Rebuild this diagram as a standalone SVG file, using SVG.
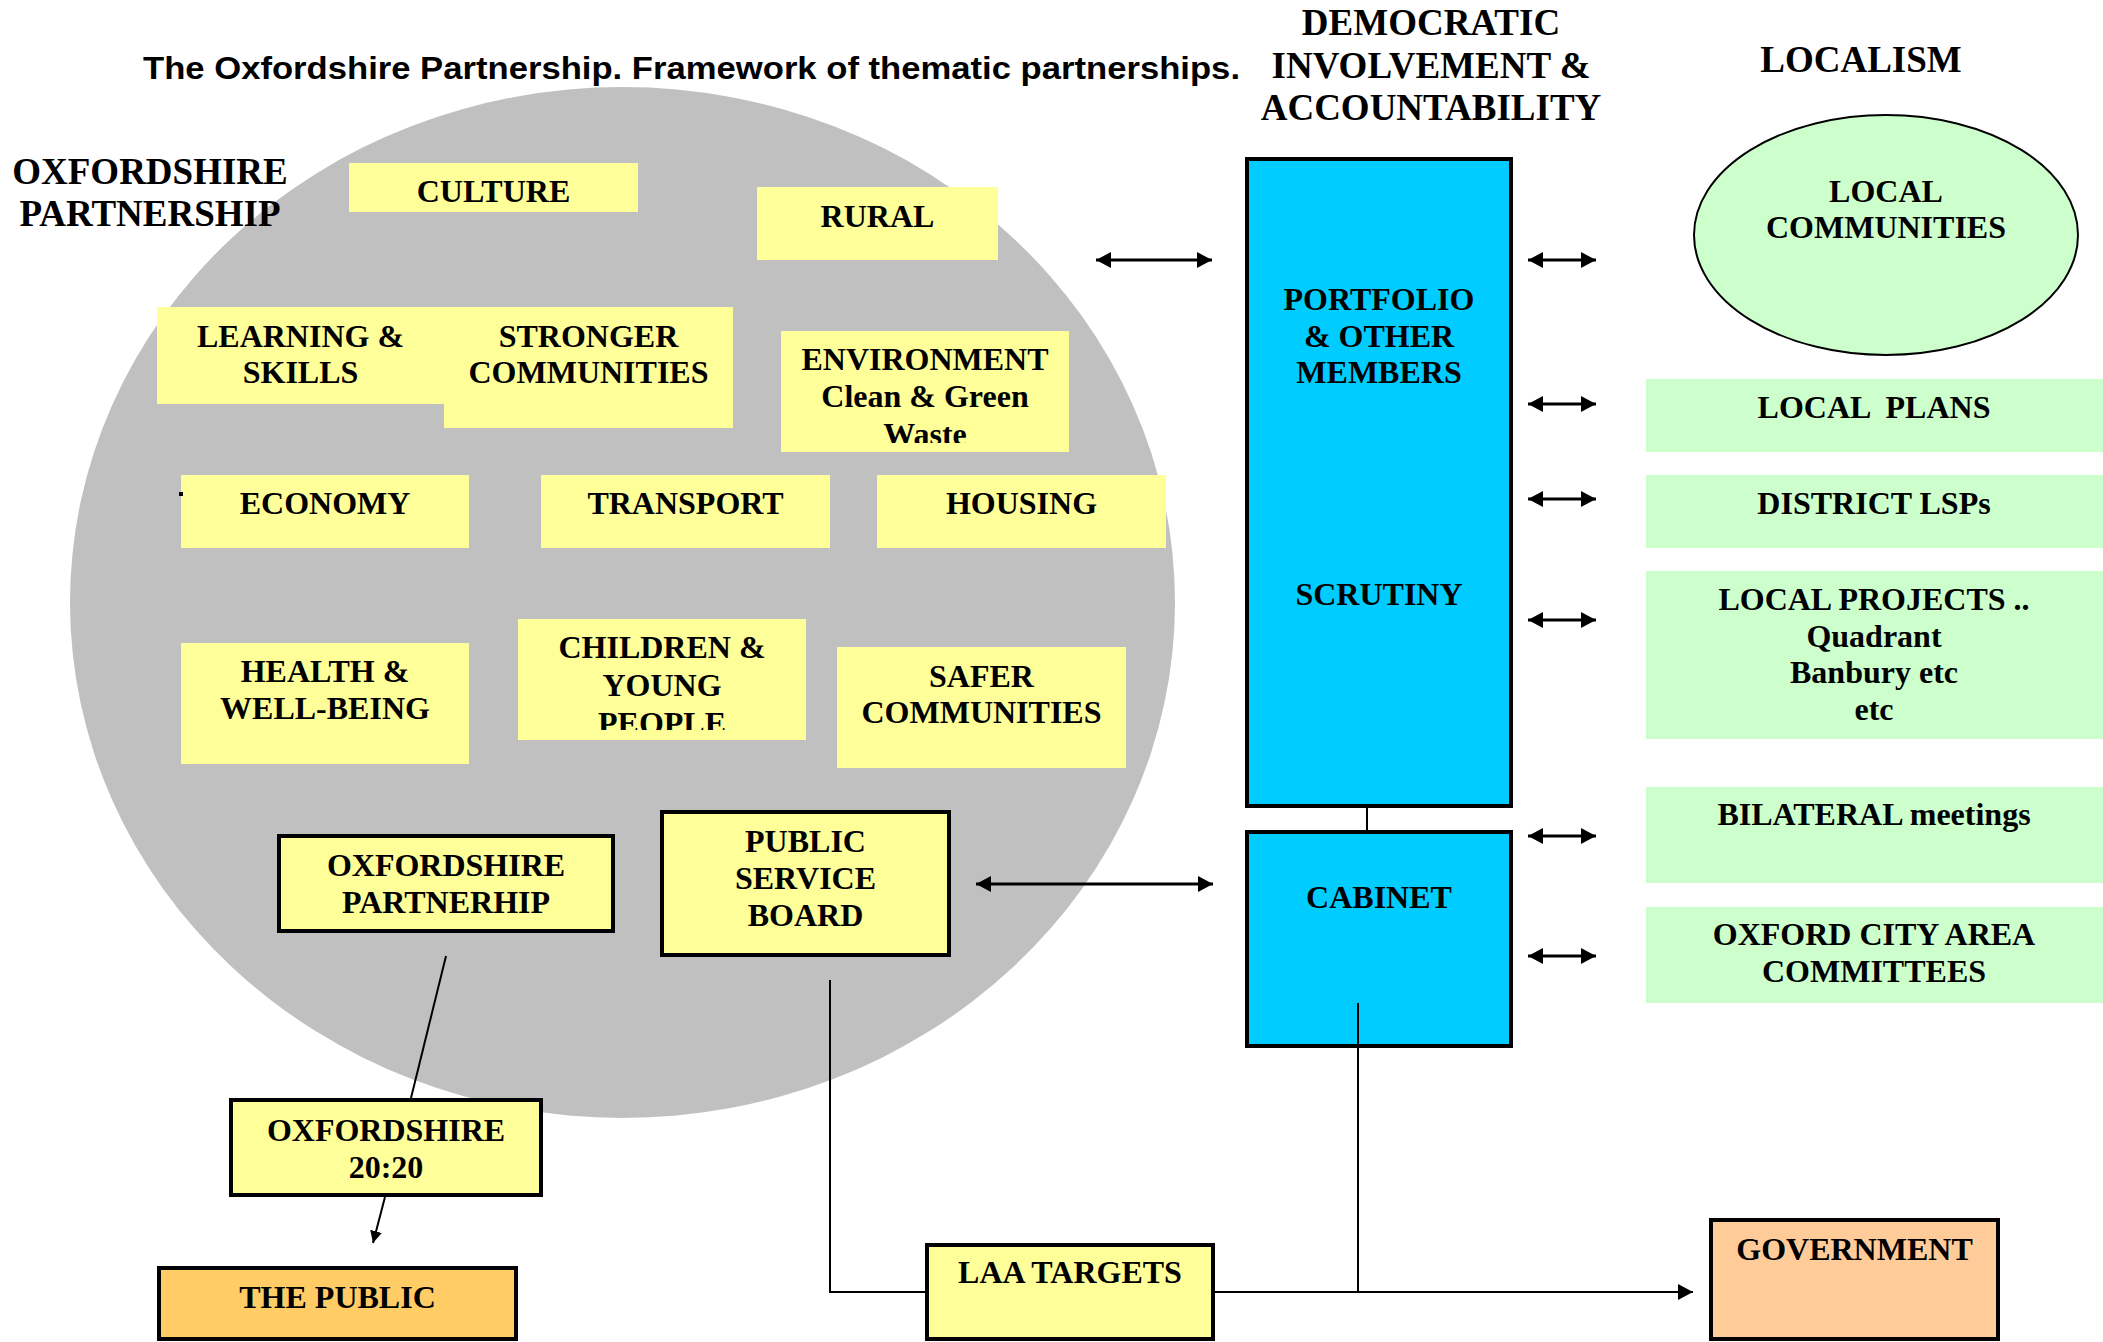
<svg xmlns="http://www.w3.org/2000/svg" width="2103" height="1342" viewBox="0 0 2103 1342">
<style>
.t{font-family:"Liberation Serif","Times New Roman",serif;font-weight:bold;font-size:32px;text-anchor:middle;fill:#000}
.h{font-family:"Liberation Serif","Times New Roman",serif;font-weight:bold;font-size:37px;text-anchor:middle;fill:#000}
.y{fill:#FFFF99}
.yb{fill:#FFFF99;stroke:#000;stroke-width:4}
.g{fill:#CCFFCC}
.bl{fill:#00CCFF;stroke:#000;stroke-width:4}
.ln{fill:none;stroke:#000;stroke-width:2}
.da{fill:none;stroke:#000;stroke-width:3;marker-start:url(#ah);marker-end:url(#ah)}
</style>
<defs>
<marker id="ah" markerUnits="userSpaceOnUse" markerWidth="16" markerHeight="18" refX="15" refY="8" orient="auto-start-reverse">
<path d="M0,0 L15,8 L0,16 z" fill="#000"/>
</marker>
<marker id="as" markerUnits="userSpaceOnUse" markerWidth="12" markerHeight="14" refX="12" refY="6" orient="auto">
<path d="M0,0 L12,6 L0,12 z" fill="#000"/>
</marker>
<clipPath id="clipEnv"><rect x="781" y="331" width="288" height="112"/></clipPath>
<clipPath id="clipChild"><rect x="518" y="619" width="288" height="111"/></clipPath>
</defs>
<rect width="2103" height="1342" fill="#fff"/>

<g id="oxfordshire-circle">
<ellipse cx="622.5" cy="602.5" rx="552.5" ry="515.5" fill="#C0C0C0"/>
</g>

<g id="title">
<text x="143" y="79" font-family="'Liberation Sans',Arial,sans-serif" font-weight="bold" font-size="32" textLength="1097" lengthAdjust="spacingAndGlyphs">The Oxfordshire Partnership. Framework of thematic partnerships.</text>
</g>
<g id="label-oxon-partnership">
<text class="h" x="150" y="184">OXFORDSHIRE</text>
<text class="h" x="150" y="226">PARTNERSHIP</text>
</g>
<g id="heading-democratic">
<text class="h" x="1431" y="35">DEMOCRATIC</text>
<text class="h" x="1431" y="78">INVOLVEMENT &amp;</text>
<text class="h" x="1431" y="120">ACCOUNTABILITY</text>
</g>
<g id="heading-localism">
<text class="h" x="1861" y="72">LOCALISM</text>
</g>

<g id="culture"><rect class="y" x="349" y="163" width="289" height="49"/><text class="t" x="493.5" y="202">CULTURE</text></g>
<g id="rural"><rect class="y" x="757" y="187" width="241" height="73"/><text class="t" x="877.5" y="227">RURAL</text></g>
<g id="learning"><rect class="y" x="157" y="307" width="287" height="97"/><text class="t" x="300.5" y="347">LEARNING &amp;</text><text class="t" x="300.5" y="383">SKILLS</text></g>
<g id="stronger"><rect class="y" x="444" y="307" width="289" height="121"/><text class="t" x="588.5" y="347">STRONGER</text><text class="t" x="588.5" y="383">COMMUNITIES</text></g>
<g id="environment"><rect class="y" x="781" y="331" width="288" height="121"/><g clip-path="url(#clipEnv)"><text class="t" x="925" y="370">ENVIRONMENT</text><text class="t" x="925" y="407">Clean &amp; Green</text><text class="t" x="925" y="445">Waste</text></g></g>
<g id="economy"><rect class="y" x="181" y="475" width="288" height="73"/><rect x="179" y="492" width="4" height="4" fill="#000"/><text class="t" x="325" y="514">ECONOMY</text></g>
<g id="transport"><rect class="y" x="541" y="475" width="289" height="73"/><text class="t" x="685.5" y="514">TRANSPORT</text></g>
<g id="housing"><rect class="y" x="877" y="475" width="289" height="73"/><text class="t" x="1021.5" y="514">HOUSING</text></g>
<g id="health"><rect class="y" x="181" y="643" width="288" height="121"/><text class="t" x="325" y="682">HEALTH &amp;</text><text class="t" x="325" y="719">WELL-BEING</text></g>
<g id="children"><rect class="y" x="518" y="619" width="288" height="121"/><g clip-path="url(#clipChild)"><text class="t" x="662" y="658">CHILDREN &amp;</text><text class="t" x="662" y="696">YOUNG</text><text class="t" x="662" y="734">PEOPLE</text></g></g>
<g id="safer"><rect class="y" x="837" y="647" width="289" height="121"/><text class="t" x="981.5" y="687">SAFER</text><text class="t" x="981.5" y="723">COMMUNITIES</text></g>

<g id="oxon-partnerhip"><rect class="yb" x="279" y="836" width="334" height="95"/><text class="t" x="446" y="876">OXFORDSHIRE</text><text class="t" x="446" y="913">PARTNERHIP</text></g>
<g id="psb"><rect class="yb" x="662" y="812" width="287" height="143"/><text class="t" x="805.5" y="852">PUBLIC</text><text class="t" x="805.5" y="889">SERVICE</text><text class="t" x="805.5" y="926">BOARD</text></g>
<g id="oxon2020"><rect class="yb" x="231" y="1100" width="310" height="95"/><text class="t" x="386" y="1141">OXFORDSHIRE</text><text class="t" x="386" y="1178">20:20</text></g>
<g id="public"><rect x="159" y="1268" width="357" height="71" fill="#FFCC66" stroke="#000" stroke-width="4"/><text class="t" x="337.5" y="1308">THE PUBLIC</text></g>
<g id="laa"><rect class="yb" x="927" y="1245" width="286" height="94"/><text class="t" x="1070" y="1283">LAA TARGETS</text></g>
<g id="government"><rect x="1711" y="1220" width="287" height="119" fill="#FFCC99" stroke="#000" stroke-width="4"/><text class="t" x="1854.5" y="1260">GOVERNMENT</text></g>

<g id="portfolio"><rect class="bl" x="1247" y="159" width="264" height="647"/><text class="t" x="1379" y="310">PORTFOLIO</text><text class="t" x="1379" y="347">&amp; OTHER</text><text class="t" x="1379" y="383">MEMBERS</text><text class="t" x="1379" y="605">SCRUTINY</text></g>
<g id="cabinet"><rect class="bl" x="1247" y="832" width="264" height="214"/><text class="t" x="1379" y="908">CABINET</text></g>

<g id="local-communities"><ellipse cx="1886" cy="235" rx="192" ry="120" fill="#CCFFCC" stroke="#000" stroke-width="2"/><text class="t" x="1886" y="202">LOCAL</text><text class="t" x="1886" y="238">COMMUNITIES</text></g>
<g id="local-plans"><rect class="g" x="1646" y="379" width="457" height="73"/><text class="t" x="1874" y="418" xml:space="preserve">LOCAL  PLANS</text></g>
<g id="district-lsps"><rect class="g" x="1646" y="475" width="457" height="73"/><text class="t" x="1874" y="514">DISTRICT LSPs</text></g>
<g id="local-projects"><rect class="g" x="1646" y="571" width="457" height="168"/><text class="t" x="1874" y="610">LOCAL PROJECTS ..</text><text class="t" x="1874" y="647">Quadrant</text><text class="t" x="1874" y="683">Banbury etc</text><text class="t" x="1874" y="720">etc</text></g>
<g id="bilateral"><rect class="g" x="1646" y="787" width="457" height="96"/><text class="t" x="1874" y="825">BILATERAL meetings</text></g>
<g id="city-area"><rect class="g" x="1646" y="907" width="457" height="96"/><text class="t" x="1874" y="945">OXFORD CITY AREA</text><text class="t" x="1874" y="982">COMMITTEES</text></g>

<g id="connectors">
<line class="da" x1="1096" y1="260" x2="1212" y2="260"/>
<line class="da" x1="976" y1="884" x2="1213" y2="884"/>
<line class="da" x1="1528" y1="260" x2="1596" y2="260"/>
<line class="da" x1="1528" y1="404" x2="1596" y2="404"/>
<line class="da" x1="1528" y1="499" x2="1596" y2="499"/>
<line class="da" x1="1528" y1="620" x2="1596" y2="620"/>
<line class="da" x1="1528" y1="836" x2="1596" y2="836"/>
<line class="da" x1="1528" y1="956" x2="1596" y2="956"/>
<line class="ln" x1="1367" y1="808" x2="1367" y2="830"/>
<line class="ln" x1="446" y1="956" x2="411" y2="1098"/>
<line class="ln" x1="385" y1="1197" x2="373" y2="1243" marker-end="url(#as)"/>
<polyline class="ln" points="830,980 830,1292 925,1292"/>
<line class="ln" x1="1358" y1="1003" x2="1358" y2="1292"/>
<line class="ln" x1="1215" y1="1292" x2="1693" y2="1292" stroke-width="3" marker-end="url(#ah)"/>
</g>
</svg>
